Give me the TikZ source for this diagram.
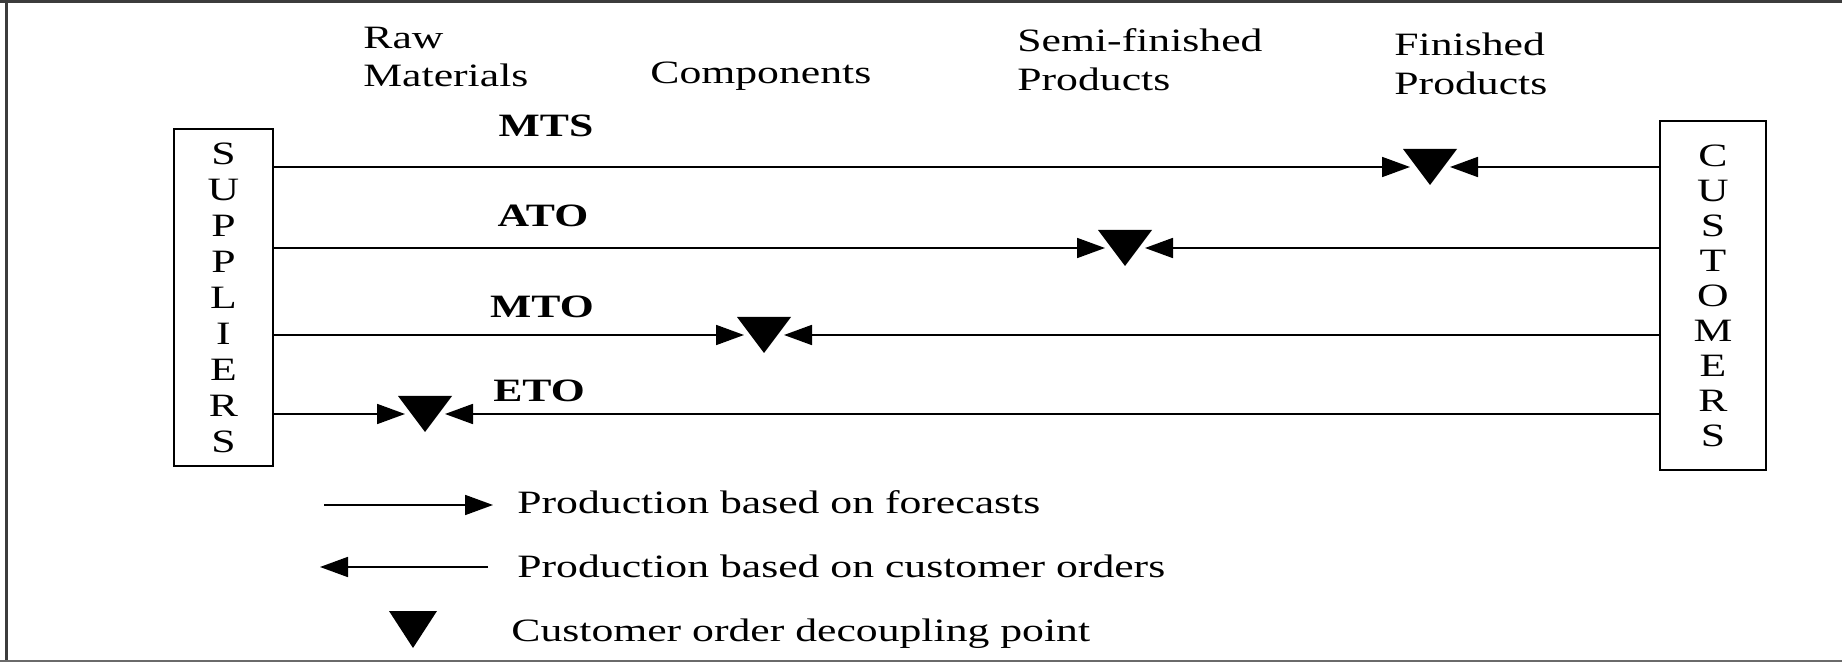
\documentclass[tikz,border=0pt]{standalone}
\usepackage{fontspec}
\setmainfont{Liberation Serif}
\usetikzlibrary{arrows.meta}

\definecolor{frameDark}{HTML}{3C3C3C}
\definecolor{frameGrey}{HTML}{6A6A6A}

% text is set slightly widened
\newcommand{\hs}[1]{\scalebox{1.34}[1]{#1}}

\tikzset{
  txt/.style={inner sep=0pt, font=\fontsize{16.3pt}{18pt}\selectfont},
  code/.style={txt, font=\fontsize{16.3pt}{18pt}\selectfont\bfseries, anchor=base},
  party/.style={draw, line width=1pt, inner sep=0pt, align=center,
                font=\fontsize{16.3pt}{18pt}\selectfont},
  flow/.style={line width=0.9pt},
  fwd/.style={-{Triangle[length=14pt,width=10pt]}},
  cod/.style={fill=black},
}

\begin{document}
\begin{tikzpicture}[x=0.5pt, y=-0.5pt]
\useasboundingbox (0,0) rectangle (1842,662);

% outer frame
\draw[frameDark, line width=1.5pt] (0,1.5) -- (1842,1.5);
\draw[frameDark, line width=1.3pt] (6.5,0) -- (6.5,662);
\draw[frameGrey, line width=1pt] (0,660.5) -- (1842,660.5);

% suppliers and customers
\node[party, minimum width=49.5pt, minimum height=168.5pt] (sup) at (223.5,297.5)
  {\hs{S}\\\hs{U}\\\hs{P}\\\hs{P}\\\hs{L}\\\hs{I}\\\hs{E}\\\hs{R}\\\hs{S}};
\node[party, minimum width=53pt, minimum height=174.5pt,
      font=\fontsize{16.3pt}{17.5pt}\selectfont] (cus) at (1713,295.5)
  {\hs{C}\\\hs{U}\\\hs{S}\\\hs{T}\\\hs{O}\\\hs{M}\\\hs{E}\\\hs{R}\\\hs{S}};

% stage labels
\node[txt, anchor=base west] (raw) at (363,49) {\hs{Raw}};
\node[txt, anchor=base west] (mat) at (363,87) {\hs{Materials}};
\node[txt, anchor=base west] (comp) at (650,84) {\hs{Components}};
\node[txt, anchor=base west] (semi) at (1017,52) {\hs{Semi-finished}};
\node[txt, anchor=base west] (semip) at (1017,91) {\hs{Products}};
\node[txt, anchor=base west] (fin) at (1394,56) {\hs{Finished}};
\node[txt, anchor=base west] (finp) at (1394,95) {\hs{Products}};

% strategy labels
\node[code] (mts) at (546,137) {\hs{MTS}};
\node[code] (ato) at (543,227) {\hs{ATO}};
\node[code] (mto) at (542,318) {\hs{MTO}};
\node[code] (eto) at (539,402) {\hs{ETO}};

% decoupling points
\coordinate (dMTS) at (1430,167);
\coordinate (dATO) at (1125,248);
\coordinate (dMTO) at (764,335);
\coordinate (dETO) at (425,414);

\foreach \d in {dMTS,dATO,dMTO,dETO}{
  \draw[flow, fwd] (sup.east |- \d) -- ([xshift=-10pt]\d);
  \draw[flow, fwd] (cus.west |- \d) -- ([xshift=10pt]\d);
  \fill[cod] ([shift={(-27,-18)}]\d) -- ([shift={(27,-18)}]\d)
             -- ([shift={(0,18)}]\d) -- cycle;
}

% legend
\coordinate (lf1) at (324,505);
\coordinate (lf2) at (493,505);
\coordinate (lb1) at (488,567);
\coordinate (lb2) at (320,567);
\coordinate (ld) at (413,629.5);
\draw[flow, fwd] (lf1) -- (lf2);
\draw[flow, fwd] (lb1) -- (lb2);
\fill[cod] ([shift={(-24,-18.5)}]ld) -- ([shift={(24,-18.5)}]ld)
           -- ([shift={(0,18.5)}]ld) -- cycle;
\node[txt, anchor=base west] (lt1) at (517,513) {\hs{Production based on forecasts}};
\node[txt, anchor=base west] (lt2) at (517,577) {\hs{Production based on customer orders}};
\node[txt, anchor=base west] (lt3) at (511,641) {\hs{Customer order decoupling point}};
\end{tikzpicture}
\end{document}
